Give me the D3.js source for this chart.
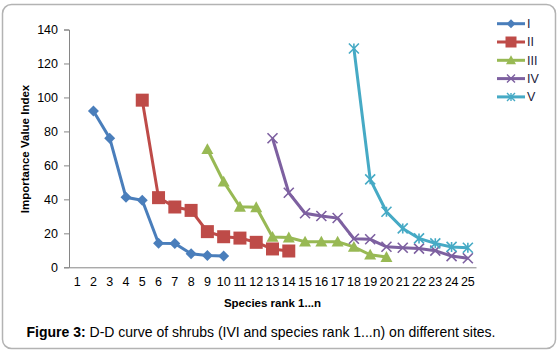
<!DOCTYPE html>
<html>
<head>
<meta charset="utf-8">
<script src="https://cdn.jsdelivr.net/npm/d3@7"></script>
<style>
  body { margin: 0; background: #fff; }
</style>
</head>
<body>
<svg class="vis" width="560" height="355"></svg>
<script>
// D-D curve data, IVI per species rank
var ranks = d3.range(1, 26);
var seriesNames = ["I", "II", "III", "IV", "V"];
var startI = 2;
var siteI = [92, 76, 41.2, 39.5, 14.2, 14, 8, 7, 6.6];
var startII = 5;
var siteII = [98.4, 41, 35.5, 33.5, 21, 18, 17.2, 14.7, 10.8, 9.6];
var startIII = 9;
var siteIII = [69.5, 50.4, 35.6, 35.3, 17.8, 17.5, 15, 15, 15, 12, 7.4, 6];
var startIV = 13;
var siteIV = [76, 43.9, 31.8, 30.2, 29, 16.8, 16.5, 12.1, 11.5, 11, 9.8, 6.6, 5.3];
var startV = 18;
var siteV = [128.8, 51.8, 32.7, 22.9, 17, 14.1, 12, 11.5];
var yTicks = [0, 20, 40, 60, 80, 100, 120, 140];

var colors = ["#4A7EBB", "#BE4B48", "#98B954", "#7D60A0", "#46AAC5"];
var shapes = ["diamond", "square", "triangle", "x", "star"];

var series = [
    { name: seriesNames[0], start: startI, values: siteI },
    { name: seriesNames[1], start: startII, values: siteII },
    { name: seriesNames[2], start: startIII, values: siteIII },
    { name: seriesNames[3], start: startIV, values: siteIV },
    { name: seriesNames[4], start: startV, values: siteV }
];
series.forEach(function (s) {
    s.points = s.values.map(function (v, i) { return { rank: s.start + i, value: v }; });
});

var svg = d3.select(".vis");

// outer frame
svg.append("rect")
    .attr("x", 2.5)
    .attr("y", 4.5)
    .attr("width", 553)
    .attr("height", 344)
    .attr("rx", 9)
    .attr("fill", "#fff")
    .attr("stroke", "#b3b3b3")
    .attr("stroke-width", 1.5);

var plotLeft = 69, plotRight = 476, plotTop = 29.5, plotBottom = 267.3;

var x = d3.scaleBand()
    .domain(ranks)
    .range([plotLeft, plotRight]);
var y = d3.scaleLinear()
    .domain([0, 140])
    .range([plotBottom, plotTop]);

var font = "Liberation Sans, Arial, sans-serif";

// y axis
var yAxis = svg.append("g")
    .attr("transform", `translate(${plotLeft}, 0)`)
    .call(d3.axisLeft(y).tickValues(yTicks).tickSize(5).tickPadding(6));
yAxis.select(".domain").attr("stroke", "#868686");
yAxis.selectAll(".tick line").attr("stroke", "#868686");
yAxis.selectAll("text")
    .attr("font-family", font)
    .attr("font-size", "12.5px")
    .attr("fill", "#000");

// x axis
var xAxis = svg.append("g")
    .attr("transform", `translate(0, ${plotBottom})`)
    .call(d3.axisBottom(x).tickSize(0).tickPadding(10));
xAxis.select(".domain").attr("stroke", "#868686");
xAxis.selectAll("text")
    .attr("font-family", font)
    .attr("font-size", "12.5px")
    .attr("fill", "#000");

// axis titles
svg.append("text")
    .attr("x", (plotLeft + plotRight) / 2)
    .attr("y", 307)
    .attr("text-anchor", "middle")
    .attr("font-family", font)
    .attr("font-weight", "bold")
    .attr("font-size", "11.5px")
    .text("Species rank 1...n");

svg.append("text")
    .attr("transform", "translate(29, 149) rotate(-90)")
    .attr("text-anchor", "middle")
    .attr("font-family", font)
    .attr("font-weight", "bold")
    .attr("font-size", "11.5px")
    .text("Importance Value Index");

// caption
var cap = svg.append("text")
    .attr("x", 261)
    .attr("y", 337)
    .attr("text-anchor", "middle")
    .attr("font-family", font)
    .attr("font-size", "14px");
cap.append("tspan").attr("font-weight", "bold").text("Figure 3:");
cap.append("tspan").text(" D-D curve of shrubs (IVI and species rank 1...n) on different sites.");

function markerPath(shape, size) {
    var h = size / 2;
    if (shape === "diamond") return `M0,${-h}L${h},0L0,${h}L${-h},0Z`;
    if (shape === "square") return `M${-h},${-h}H${h}V${h}H${-h}Z`;
    if (shape === "triangle") return `M0,${-h}L${h},${h * 0.8}L${-h},${h * 0.8}Z`;
    if (shape === "x") return `M${-h},${-h}L${h},${h}M${h},${-h}L${-h},${h}`;
    return `M${-h},${-h}L${h},${h}M${h},${-h}L${-h},${h}M0,${-h}V${h}`;
}
var markerSize = [11, 13, 12, 10, 10];

var line = d3.line()
    .x(function (d) { return x(d.rank) + x.bandwidth() / 2; })
    .y(function (d) { return y(d.value); });

series.forEach(function (s, i) {
    svg.append("path")
        .datum(s.points)
        .attr("d", line)
        .attr("fill", "none")
        .attr("stroke", colors[i])
        .attr("stroke-width", 3);

    svg.selectAll(".m" + i)
        .data(s.points)
        .join("path")
        .attr("class", "m" + i)
        .attr("transform", function (d) { return `translate(${x(d.rank) + x.bandwidth() / 2}, ${y(d.value)})`; })
        .attr("d", markerPath(shapes[i], markerSize[i]))
        .attr("fill", i < 3 ? colors[i] : "none")
        .attr("stroke", colors[i])
        .attr("stroke-width", i < 3 ? 0 : 1.6);
});

// legend
var legend = svg.append("g");
series.forEach(function (s, i) {
    var ly = 23.7 + i * 18.3;
    legend.append("line")
        .attr("x1", 497)
        .attr("x2", 525)
        .attr("y1", ly)
        .attr("y2", ly)
        .attr("stroke", colors[i])
        .attr("stroke-width", 3);
    legend.append("path")
        .attr("transform", `translate(511, ${ly})`)
        .attr("d", markerPath(shapes[i], markerSize[i] - 2))
        .attr("fill", i < 3 ? colors[i] : "none")
        .attr("stroke", colors[i])
        .attr("stroke-width", i < 3 ? 0 : 1.4);
    legend.append("text")
        .attr("x", 527)
        .attr("y", ly)
        .attr("dy", "0.35em")
        .attr("font-family", font)
        .attr("font-size", "12.5px")
        .attr("fill", "#1a1a3a")
        .text(s.name);
});
</script>
</body>
</html>
